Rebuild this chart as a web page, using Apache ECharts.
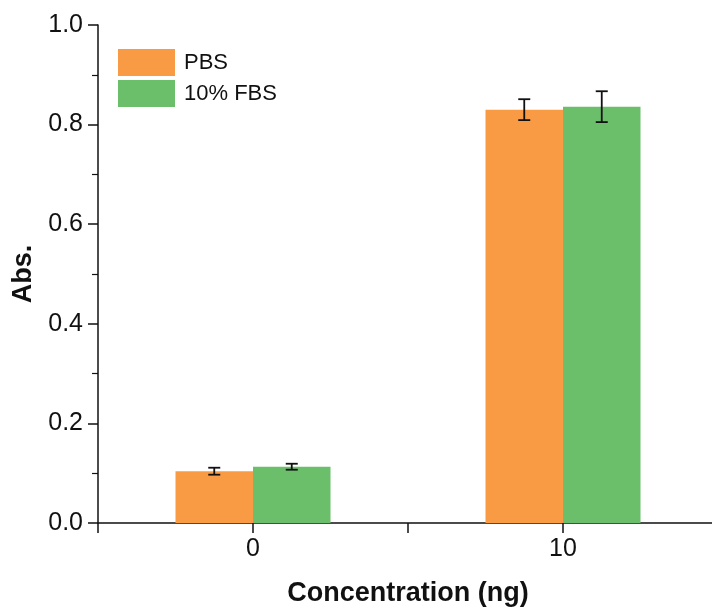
<!DOCTYPE html>
<html>
<head>
<meta charset="utf-8">
<script src="https://cdn.jsdelivr.net/npm/echarts@6/dist/echarts.min.js"></script>
<style>
  html, body { margin: 0; padding: 0; background: #fff; overflow: hidden; }
  /* the plot area runs a few pixels past the right edge of the window */
  #chart { width: 718px; height: 612px; }
</style>
</head>
<body>
<div id="chart"></div>
<script>
const categories = ['0', '10'];
const pbs = [0.104, 0.830];
const pbsErr = [0.007, 0.021];
const fbs = [0.113, 0.836];
const fbsErr = [0.006, 0.031];
const yTicks = [0, 0.2, 0.4, 0.6, 0.8, 1.0];

const ORANGE = '#F99B45';
const GREEN = '#6BBF6A';
const FONT = 'Liberation Sans, Arial, sans-serif';

const chart = echarts.init(document.getElementById('chart'));

// error bar drawn relative to its bar: side -1 = left bar, +1 = right bar
const errorSeries = (vals, errs, side) => ({
  type: 'custom',
  xAxisIndex: 0,
  z: 10,
  data: vals.map((v, i) => [i, v - errs[i], v + errs[i]]),
  renderItem: (params, api) => {
    const band = api.size([1, 0])[0];
    const shift = side * band * 0.25 / 2;
    const lo = api.coord([api.value(0), api.value(1)]);
    const hi = api.coord([api.value(0), api.value(2)]);
    const x = lo[0] + shift;
    const cap = 6;
    const style = { stroke: '#111', lineWidth: 1.8 };
    return {
      type: 'group',
      children: [
        { type: 'line', shape: { x1: x, y1: lo[1], x2: x, y2: hi[1] }, style },
        { type: 'line', shape: { x1: x - cap, y1: lo[1], x2: x + cap, y2: lo[1] }, style },
        { type: 'line', shape: { x1: x - cap, y1: hi[1], x2: x + cap, y2: hi[1] }, style }
      ]
    };
  }
});

chart.setOption({
  animation: false,
  backgroundColor: '#fff',
  textStyle: { fontFamily: FONT },
  grid: { left: 98, right: 0, top: 25, bottom: 88 },
  legend: {
    orient: 'vertical',
    left: 113,
    top: 44,
    itemWidth: 57,
    itemHeight: 27,
    itemGap: 4,
    icon: 'rect',
    data: ['PBS', '10% FBS'],
    textStyle: { fontSize: 22, color: '#111', fontFamily: FONT, padding: [0, 0, 0, 4] }
  },
  xAxis: [
    {
      type: 'category',
      data: categories,
      name: 'Concentration (ng)',
      nameLocation: 'middle',
      nameGap: 57,
      nameTextStyle: { fontSize: 27, fontWeight: 'bold', color: '#111', fontFamily: FONT },
      axisLine: { lineStyle: { color: '#111', width: 1.5 } },
      axisTick: { show: false },
      axisLabel: { fontSize: 25, color: '#111', margin: 14, fontFamily: FONT },
      splitLine: { show: false }
    },
    {
      // carries the ticks at the category centres and between them
      type: 'value',
      position: 'bottom',
      min: -5,
      max: 15,
      interval: 5,
      axisLine: { show: false },
      axisTick: { show: true, length: 10, lineStyle: { color: '#111', width: 1.5 } },
      axisLabel: { show: false },
      splitLine: { show: false }
    }
  ],
  yAxis: {
    type: 'value',
    min: 0,
    max: 1,
    interval: 0.2,
    name: 'Abs.',
    nameLocation: 'middle',
    nameGap: 57,
    nameTextStyle: { fontSize: 27, fontWeight: 'bold', color: '#111', fontFamily: FONT },
    axisLine: { show: true, onZero: false, lineStyle: { color: '#111', width: 1.5 } },
    axisTick: { show: true, length: 10, lineStyle: { color: '#111', width: 1.5 } },
    minorTick: { show: true, splitNumber: 2, length: 6, lineStyle: { color: '#111', width: 1.2 } },
    axisLabel: {
      fontSize: 25,
      color: '#111',
      margin: 15,
      fontFamily: FONT,
      formatter: v => yTicks.includes(+v.toFixed(1)) ? v.toFixed(1) : ''
    },
    splitLine: { show: false }
  },
  series: [
    {
      name: 'PBS',
      type: 'bar',
      data: pbs,
      barWidth: '25%',
      barGap: '0%',
      itemStyle: { color: ORANGE }
    },
    {
      name: '10% FBS',
      type: 'bar',
      data: fbs,
      barWidth: '25%',
      barGap: '0%',
      itemStyle: { color: GREEN }
    },
    errorSeries(pbs, pbsErr, -1),
    errorSeries(fbs, fbsErr, 1)
  ]
});
</script>
</body>
</html>
